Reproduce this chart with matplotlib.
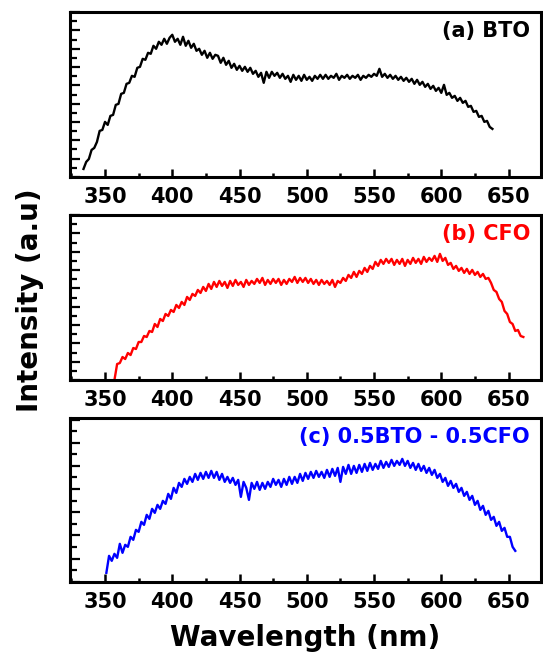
import numpy as np
import matplotlib.pyplot as plt
from matplotlib.ticker import MultipleLocator

# wavelength ranges (nm) of the three spectra
bto_start, bto_end = 334, 638
cfo_start, cfo_end = 357, 661
mix_start, mix_end = 351, 655

# intensity (a.u.), every 2 nm
bto = [8, 15, 18, 27, 29, 35, 46, 47, 55, 52,
       61, 62, 72, 73, 83, 84, 93, 94, 101, 100,
       109, 110, 118, 117, 124, 123, 131, 128, 135, 132,
       138, 133, 139, 142, 135, 138, 132, 140, 131, 136,
       129, 133, 126, 128, 122, 126, 119, 124, 118, 122,
       121, 114, 119, 112, 116, 109, 113, 107, 111, 106,
       110, 105, 109, 103, 106, 100, 104, 94, 105, 99,
       105, 101, 104, 99, 103, 98, 101, 95, 102, 97,
       101, 96, 102, 97, 100, 96, 101, 98, 102, 98,
       102, 98, 101, 99, 103, 97, 101, 99, 102, 98,
       101, 99, 102, 97, 101, 99, 102, 100, 103, 101,
       108, 100, 103, 99, 102, 98, 101, 97, 100, 96,
       99, 95, 98, 93, 97, 92, 95, 90, 93, 88,
       91, 86, 89, 84, 92, 82, 84, 79, 81, 76,
       79, 74, 76, 70, 71, 65, 66, 60, 61, 55,
       56, 50, 48]

cfo = [0, 16, 17, 23, 21, 27, 25, 32, 31, 38,
       38, 44, 43, 49, 48, 56, 53, 61, 59, 66,
       64, 70, 68, 75, 72, 78, 75, 83, 80, 86,
       84, 90, 87, 93, 89, 96, 91, 98, 93, 99,
       94, 98, 92, 99, 94, 100, 95, 98, 93, 100,
       95, 99, 96, 101, 97, 102, 95, 100, 96, 101,
       97, 101, 95, 100, 96, 101, 98, 103, 97, 102,
       98, 102, 97, 101, 96, 100, 95, 100, 96, 99,
       95, 100, 93, 99, 97, 102, 99, 105, 102, 108,
       103, 109, 106, 112, 108, 114, 111, 118, 114, 120,
       116, 121, 117, 121, 115, 120, 116, 121, 114, 120,
       116, 122, 117, 121, 116, 123, 118, 122, 119, 124,
       118, 126, 119, 122, 115, 117, 111, 114, 109, 112,
       107, 111, 106, 110, 105, 108, 103, 106, 101, 102,
       97, 90, 88, 81, 78, 69, 66, 58, 56, 49,
       50, 44, 43]

mix = [9, 26, 21, 28, 24, 38, 29, 37, 35, 45,
       42, 52, 50, 60, 57, 67, 63, 73, 69, 77,
       73, 81, 78, 88, 83, 94, 89, 99, 95, 103,
       98, 105, 100, 108, 102, 109, 103, 110, 104, 111,
       104, 110, 102, 108, 100, 105, 99, 104, 97, 102,
       85, 100, 94, 82, 99, 93, 100, 92, 99, 93,
       100, 95, 103, 97, 102, 95, 103, 97, 105, 98,
       105, 99, 108, 101, 109, 103, 110, 104, 111, 105,
       110, 104, 112, 105, 113, 106, 114, 100, 115, 108,
       117, 108, 116, 109, 117, 110, 118, 111, 119, 112,
       118, 113, 121, 114, 120, 115, 122, 116, 121, 117,
       123, 116, 121, 114, 119, 112, 118, 111, 116, 109,
       114, 107, 112, 104, 108, 100, 104, 96, 101, 94,
       98, 90, 94, 86, 90, 82, 86, 77, 81, 72,
       76, 67, 71, 62, 65, 56, 60, 51, 54, 45,
       45, 35, 31]

labels = ['(a) BTO', '(b) CFO', '(c) 0.5BTO - 0.5CFO']
colors = ['black', 'red', 'blue']

plt.rcParams['font.family'] = 'DejaVu Sans'
plt.rcParams['font.weight'] = 'bold'

fig = plt.figure(figsize=(5.43, 6.53), dpi=100)
ax1 = fig.add_axes([0.129, 0.729, 0.867, 0.253])
ax2 = fig.add_axes([0.129, 0.418, 0.867, 0.253])
ax3 = fig.add_axes([0.129, 0.109, 0.867, 0.251])

panels = [(ax1, bto_start, bto_end, bto, 165, 18.3),
          (ax2, cfo_start, cfo_end, cfo, 165, 18.3),
          (ax3, mix_start, mix_end, mix, 164, 23.2)]

for i, (ax, s, e, y, top, step) in enumerate(panels):
    wl = np.linspace(s, e, len(y))
    ax.plot(wl, y, color=colors[i], lw=1.7)
    ax.set_xlim(324, 674)
    ax.set_ylim(0, top)
    ax.xaxis.set_major_locator(MultipleLocator(50))
    ax.xaxis.set_minor_locator(MultipleLocator(25))
    ax.yaxis.set_major_locator(MultipleLocator(step))
    ax.yaxis.set_minor_locator(MultipleLocator(step / 2))
    ax.tick_params(axis='x', which='major', direction='in', length=6, width=1.8,
                   labelsize=15, pad=7)
    ax.tick_params(axis='x', which='minor', direction='in', length=3, width=1.8)
    ax.tick_params(axis='y', which='major', direction='in', length=7, width=1.6,
                   labelleft=False)
    ax.tick_params(axis='y', which='minor', direction='in', length=5, width=1.6)
    for lab in ax.get_xticklabels():
        lab.set_fontweight('bold')
    for sp in ax.spines.values():
        sp.set_linewidth(2.2)
    ax.text(0.977, 0.885, labels[i], transform=ax.transAxes, ha='right',
            va='center', color=colors[i], fontsize=15, fontweight='bold')

fig.text(0.055, 0.54, 'Intensity (a.u)', rotation=90, ha='center', va='center',
         fontsize=20, fontweight='bold')
fig.text(0.562, 0.023, 'Wavelength (nm)', ha='center', va='center',
         fontsize=20, fontweight='bold')

plt.savefig('out.png', dpi=100)
